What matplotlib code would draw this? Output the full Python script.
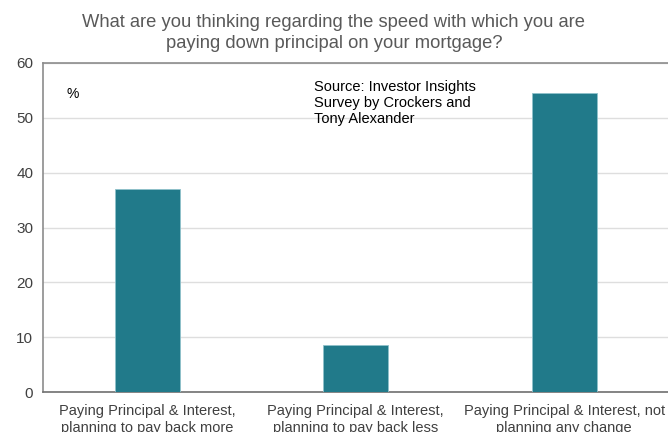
import matplotlib.pyplot as plt

# Survey responses (%)
categorias = [
    "Paying Principal & Interest,\nplanning to pay back more",
    "Paying Principal & Interest,\nplanning to pay back less",
    "Paying Principal & Interest, not\nplanning any change",
]
valores = [37.0, 8.5, 54.5]
yticks = [0, 10, 20, 30, 40, 50, 60]

plt.rcParams['font.family'] = ['Liberation Sans', 'DejaVu Sans']

fig = plt.figure(figsize=(6.68, 4.32), dpi=100)
ax = fig.add_axes([43 / 668, 40 / 432, 625.5 / 668, 329 / 432])

x = range(len(categorias))
ax.bar(x, valores, width=0.31, color='#217a8a', edgecolor='#8fc1cb', linewidth=0.6, zorder=3)

ax.set_xlim(-0.5, 2.5)
ax.set_ylim(0, 60)
ax.set_yticks(yticks)
ax.set_xticks(list(x))
ax.set_xticklabels(categorias, fontsize=10.5, color='#404040', linespacing=1.25)
ax.tick_params(axis='y', labelsize=11, colors='#404040', length=0, pad=7)
ax.tick_params(axis='x', length=0, pad=9)

ax.grid(True, axis='y', color='#dedede', linewidth=1, zorder=0)
ax.spines['right'].set_visible(False)
ax.spines['top'].set_color('#8c8c8c')
ax.spines['left'].set_color('#8c8c8c')
ax.spines['bottom'].set_color('#707070')
for s in ['top', 'left', 'bottom']:
    ax.spines[s].set_linewidth(1.2)

fig.text(0.5, 0.924, "What are you thinking regarding the speed with which you are\npaying down principal on your mortgage?",
         ha='center', va='center', fontsize=13.2, color='#595959', linespacing=1.3)

ax.text(0.038, 0.906, "%", transform=ax.transAxes, fontsize=10, color='black', va='center')
ax.text(0.433, 0.947, "Source: Investor Insights\nSurvey by Crockers and\nTony Alexander",
        transform=ax.transAxes, fontsize=10.5, color='black', va='top', ha='left', linespacing=1.17)

fig.savefig("out.png", dpi=100)
